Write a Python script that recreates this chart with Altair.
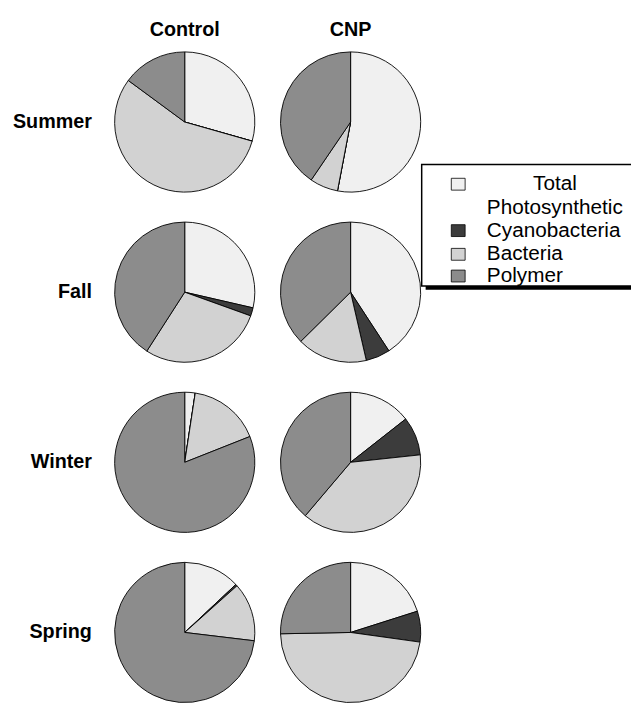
import altair as alt
import pandas as pd
import math

# ---- data (percent of total carbon) ----
seasons = ["Summer", "Fall", "Winter", "Spring"]
treatments = ["Control", "CNP"]
components = ["Total Photosynthetic", "Cyanobacteria", "Bacteria", "Polymer"]

control_total = [29.4, 28.6, 2.4, 13.0]
control_cyano = [0.0, 1.9, 0.0, 0.4]
control_bacteria = [55.7, 28.6, 16.6, 13.5]
control_polymer = [14.9, 40.9, 81.0, 73.1]

cnp_total = [53.0, 40.8, 14.4, 20.1]
cnp_cyano = [0.0, 5.6, 8.9, 7.1]
cnp_bacteria = [6.5, 16.2, 37.9, 47.5]
cnp_polymer = [40.5, 37.4, 38.8, 25.3]

fills = ["#f0f0f0", "#3c3c3c", "#d2d2d2", "#8c8c8c"]

series = {
    "Control": [control_total, control_cyano, control_bacteria, control_polymer],
    "CNP": [cnp_total, cnp_cyano, cnp_bacteria, cnp_polymer],
}
rows = []
for t in treatments:
    for ci, comp in enumerate(components):
        for si, s in enumerate(seasons):
            rows.append({"treatment": t, "season": s, "component": comp,
                         "order": ci, "pct": series[t][ci][si]})
df = pd.DataFrame(rows)

FONT = "Arial, Liberation Sans, sans-serif"

xscale = alt.Scale(type="point", domain=treatments, range=[179, 347], padding=0)
yscale = alt.Scale(type="point", domain=seasons, range=[111, 628], padding=0)

pies = (
    alt.Chart(df)
    .transform_window(end="sum(pct)", groupby=["season", "treatment"],
                      sort=[alt.SortField("order")], frame=[None, 0])
    .transform_calculate(start="datum.end - datum.pct")
    .mark_arc(radius=71, stroke="black", strokeWidth=0.9)
    .encode(
        x=alt.X("treatment:N", scale=xscale, axis=None),
        y=alt.Y("season:N", scale=yscale, axis=None),
        theta=alt.Theta("start:Q", scale=alt.Scale(domain=[0, 100], range=[0, 2 * math.pi])),
        theta2="end:Q",
        color=alt.Color("component:N", scale=alt.Scale(domain=components, range=fills), legend=None),
    )
)

row_labels = (
    alt.Chart(pd.DataFrame({"season": seasons}))
    .mark_text(align="right", baseline="middle", fontWeight="bold", fontSize=20, font=FONT, color="black")
    .encode(x=alt.value(85), y=alt.Y("season:N", scale=yscale, axis=None), text="season:N")
)

col_labels = (
    alt.Chart(pd.DataFrame({"treatment": treatments}))
    .mark_text(align="center", baseline="alphabetic", fontWeight="bold", fontSize=20, font=FONT, color="black")
    .encode(x=alt.X("treatment:N", scale=xscale, axis=None), y=alt.value(24), text="treatment:N")
)

one = pd.DataFrame({"k": [0]})

shadow = alt.Chart(one).mark_rect(fill="black").encode(
    x=alt.value(423), x2=alt.value(640), y=alt.value(158), y2=alt.value(281))
box = alt.Chart(one).mark_rect(fill="white", stroke="black", strokeWidth=1.5).encode(
    x=alt.value(419), x2=alt.value(640), y=alt.value(154), y2=alt.value(277))

legend_layers = [shadow, box]
sym_y = [174, 221, 245, 267]
for comp, fill, yc in zip(components, fills, sym_y):
    legend_layers.append(
        alt.Chart(one).mark_rect(fill=fill, stroke="black", strokeWidth=0.8).encode(
            x=alt.value(449), x2=alt.value(463), y=alt.value(yc - 6), y2=alt.value(yc + 6))
    )
    words = comp.split(" ")
    if len(words) == 2:
        legend_layers.append(
            alt.Chart(one).mark_text(align="center", baseline="middle", fontSize=21, font=FONT, color="black")
            .encode(x=alt.value(554), y=alt.value(yc), text=alt.value(words[0])))
        legend_layers.append(
            alt.Chart(one).mark_text(align="left", baseline="middle", fontSize=21, font=FONT, color="black")
            .encode(x=alt.value(485), y=alt.value(yc + 24), text=alt.value(words[1])))
    else:
        legend_layers.append(
            alt.Chart(one).mark_text(align="left", baseline="middle", fontSize=21, font=FONT, color="black")
            .encode(x=alt.value(485), y=alt.value(yc), text=alt.value(comp)))

chart = (
    alt.layer(pies, row_labels, col_labels, *legend_layers)
    .properties(width=631, height=697, autosize="none", padding=0)
    .configure_view(stroke=None)
)

chart.save("out.html", embed_options={"renderer": "svg", "actions": False})
